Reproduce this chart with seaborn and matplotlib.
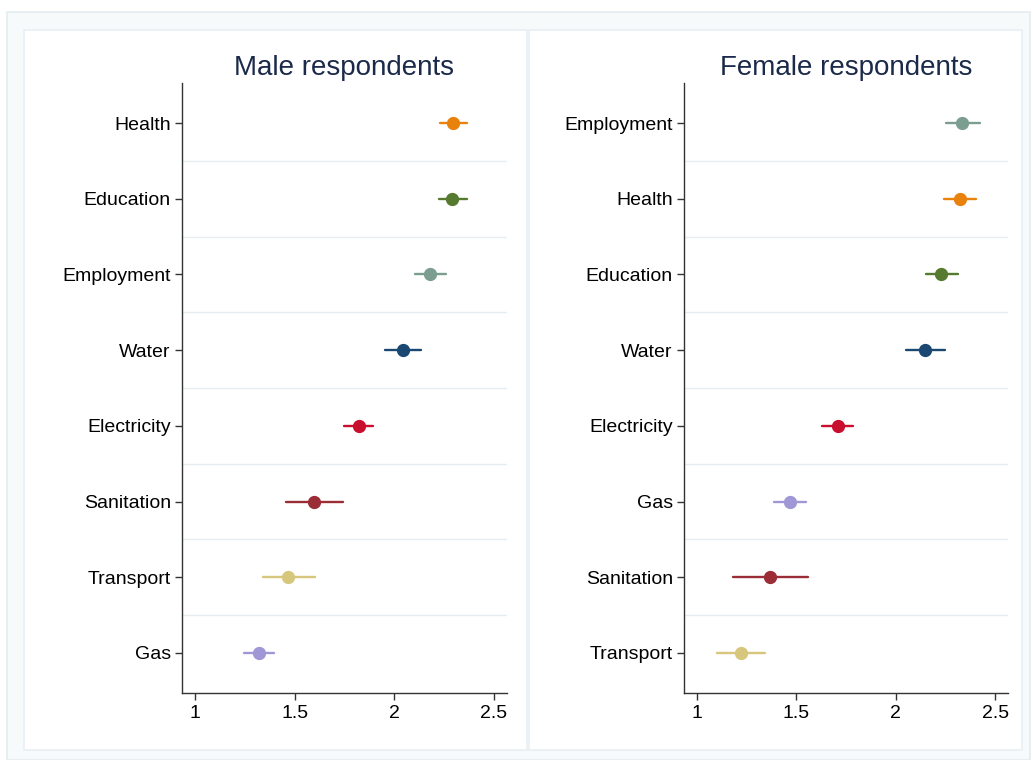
import numpy as np
import pandas as pd
import matplotlib
matplotlib.use("Agg")
import matplotlib.pyplot as plt
import seaborn as sns
from matplotlib.patches import Rectangle

# ---- data ----
male_cats = ["Health", "Education", "Employment", "Water", "Electricity", "Sanitation", "Transport", "Gas"]
male_mean = [2.295, 2.290, 2.181, 2.044, 1.821, 1.598, 1.469, 1.320]
male_lo = [2.228, 2.223, 2.106, 1.955, 1.749, 1.457, 1.340, 1.248]
male_hi = [2.365, 2.362, 2.261, 2.134, 1.893, 1.742, 1.603, 1.397]

female_cats = ["Employment", "Health", "Education", "Water", "Electricity", "Gas", "Sanitation", "Transport"]
female_mean = [2.335, 2.324, 2.230, 2.149, 1.709, 1.470, 1.369, 1.220]
female_lo = [2.252, 2.244, 2.150, 2.050, 1.630, 1.387, 1.180, 1.100]
female_hi = [2.424, 2.402, 2.314, 2.250, 1.785, 1.550, 1.560, 1.344]

xticks = [1, 1.5, 2, 2.5]
xticklabels = ["1", "1.5", "2", "2.5"]
titles = ["Male respondents", "Female respondents"]

palette = {
    "Health": "#e8820c",
    "Education": "#557a30",
    "Employment": "#7c9e90",
    "Water": "#1a4873",
    "Electricity": "#c8102e",
    "Sanitation": "#9b2d36",
    "Transport": "#d6c77c",
    "Gas": "#9f97d6",
}


def long_df(cats, lo, mid, hi):
    rows = []
    for c, a, m, b in zip(cats, lo, mid, hi):
        for v in (a, m, b):
            rows.append({"category": c, "value": v})
    return pd.DataFrame(rows)


sns.set_theme(style="white")
plt.rcParams["font.family"] = ["Liberation Sans", "DejaVu Sans"]

fig = plt.figure(figsize=(10.33, 7.6), dpi=100)
fig.patch.set_facecolor("white")

# outer frame and panel frames
fig.patches.append(Rectangle((7 / 1033, 0), 1 - 10 / 1033, 1 - 12 / 760,
                             transform=fig.transFigure, facecolor="#f7fafb",
                             edgecolor="#e3ecef", lw=1.2, zorder=-10))
for x0, x1 in [(24, 527), (529, 1022)]:
    fig.patches.append(Rectangle((x0 / 1033, 10 / 760), (x1 - x0) / 1033, 720 / 760,
                                 transform=fig.transFigure, facecolor="white",
                                 edgecolor="#e8eff2", lw=1.2, zorder=-9))

axes_pos = [
    [182 / 1033, 1 - 693 / 760, (507 - 182) / 1033, (693 - 83) / 760],
    [684 / 1033, 1 - 693 / 760, (1008 - 684) / 1033, (693 - 83) / 760],
]

datasets = [
    (male_cats, male_lo, male_mean, male_hi),
    (female_cats, female_lo, female_mean, female_hi),
]

for pos, (cats, lo, mid, hi), title in zip(axes_pos, datasets, titles):
    ax = fig.add_axes(pos)
    ax.set_facecolor("none")
    df = long_df(cats, lo, mid, hi)
    sns.pointplot(data=df, x="value", y="category", hue="category",
                  order=cats, hue_order=cats, palette=palette,
                  estimator="median", errorbar=("pi", 100),
                  linestyle="none", markers="o", markersize=7.5,
                  err_kws={"linewidth": 1.7}, legend=False, ax=ax)
    ax.set_xlim(0.935, 2.565)
    ax.set_ylim(len(cats) - 0.47, -0.53)
    ax.set_xticks(xticks)
    ax.set_xticklabels(xticklabels)
    ax.set_yticks(range(len(cats)))
    ax.set_yticklabels(cats)
    ax.set_yticks(np.arange(0.5, len(cats) - 1, 1.0), minor=True)
    ax.grid(False)
    ax.grid(True, which="minor", axis="y", color="#e6edf0", lw=1.0)
    ax.tick_params(which="minor", length=0)
    ax.tick_params(axis="both", which="major", direction="out", length=5,
                   width=1, color="#333333", labelsize=14, labelcolor="black",
                   left=True, bottom=True)
    ax.tick_params(axis="y", pad=3)
    ax.tick_params(axis="x", pad=4)
    for s in ["top", "right"]:
        ax.spines[s].set_visible(False)
    for s in ["left", "bottom"]:
        ax.spines[s].set_color("#333333")
        ax.spines[s].set_linewidth(1.0)
    ax.set_xlabel("")
    ax.set_ylabel("")
    ax.set_title(title, fontsize=20, color="#1b2a4a", pad=6)

fig.savefig("out.png", dpi=100, facecolor=fig.get_facecolor())
